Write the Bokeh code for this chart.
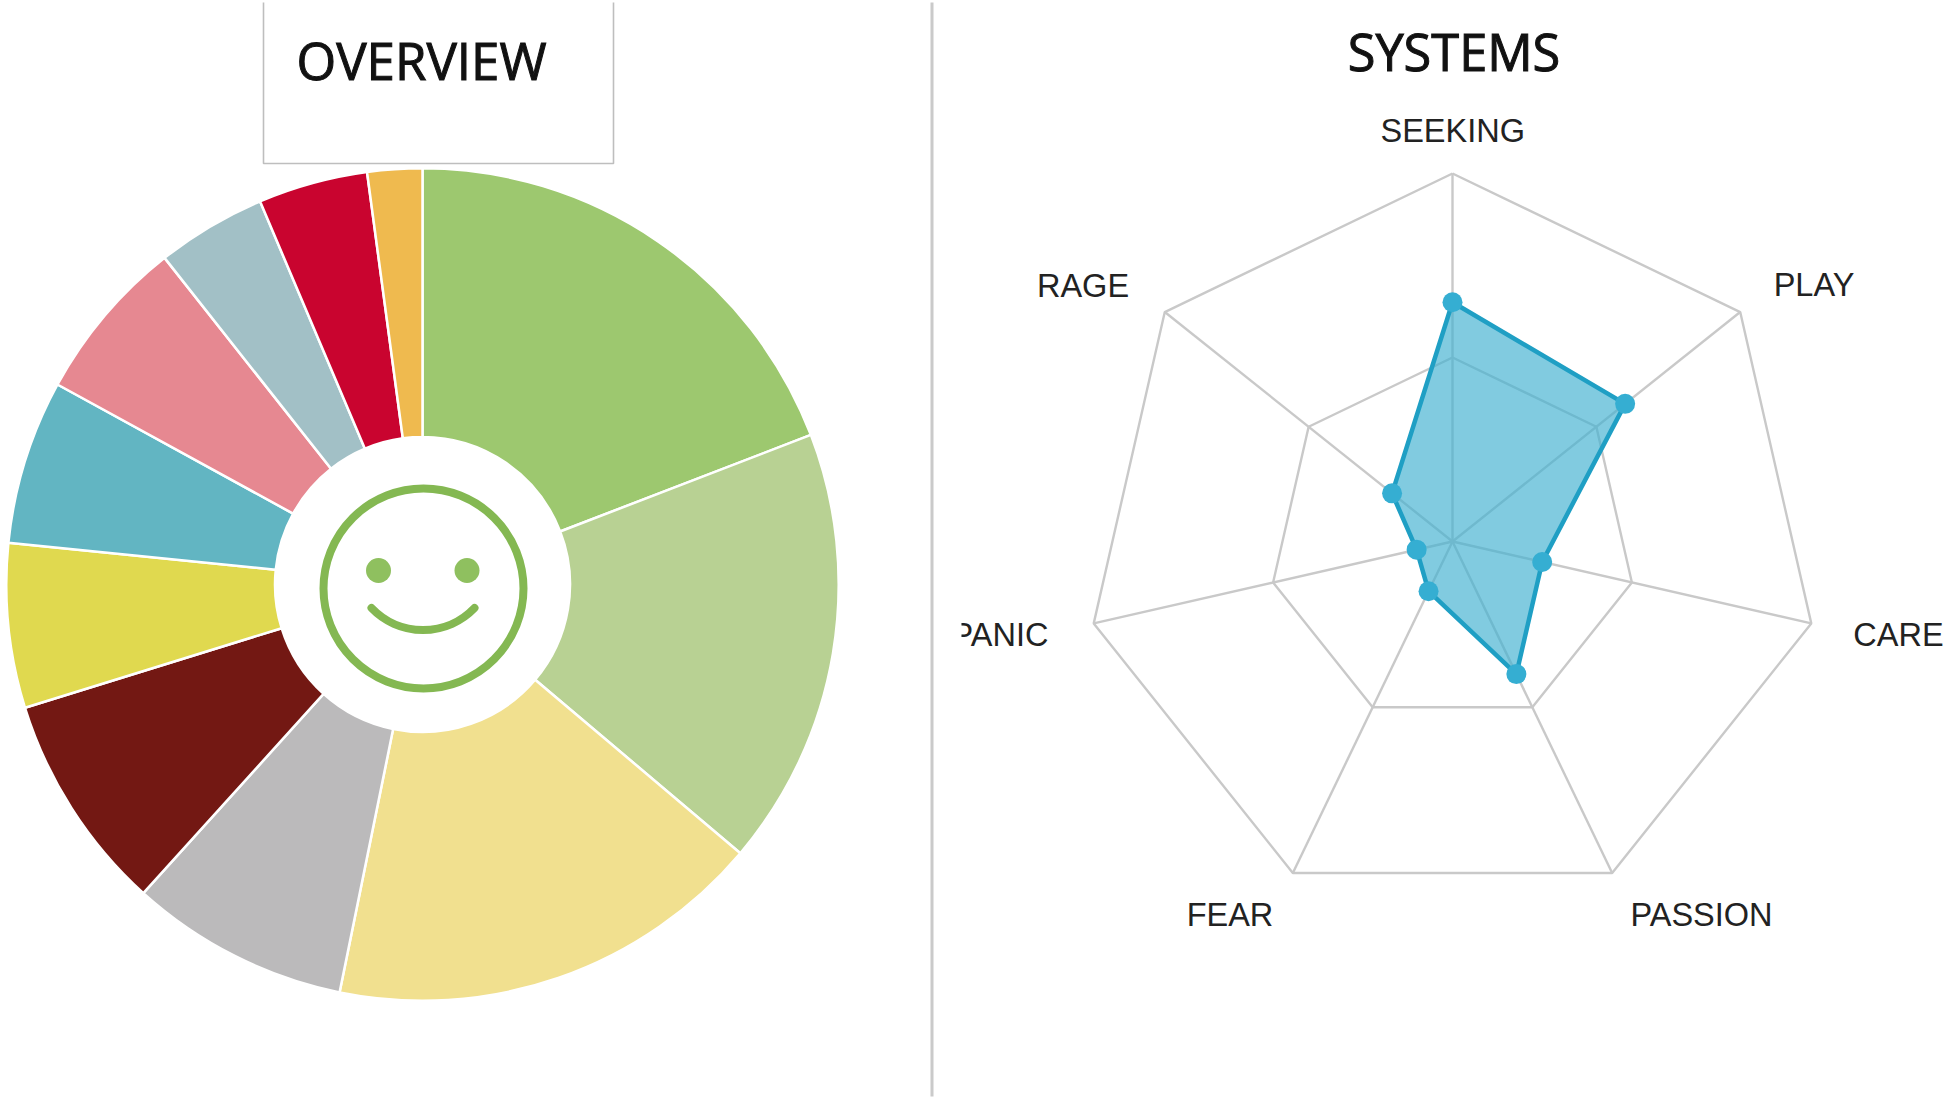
import math
from bokeh.core.properties import value
from bokeh.embed import file_html
from bokeh.layouts import row
from bokeh.models import Range1d
from bokeh.plotting import figure
from bokeh.resources import INLINE

# ---- data ----
overview_titles = "OVERVIEW"
systems_title = "SYSTEMS"
slice_values = [9, 8, 8, 4, 4, 3, 3, 3, 2, 2, 1]
slice_colors = ["#9DC86F", "#B8D193", "#F1E08F", "#BBBABB", "#731813", "#E0D94F",
                "#62B5C2", "#E68891", "#A2C0C6", "#C9042F", "#EFBA4F"]
axis_labels = ["SEEKING", "PLAY", "CARE", "PASSION", "FEAR", "PANIC", "RAGE"]
system_values = [65, 60, 25, 40, 15, 10, 21]
ring_levels = [50, 100]
scale_max = 100

# ---- layout (page pixels) ----
PAGE_L, PAGE_T, SPLIT, PAGE_R, PAGE_B = 0, 0, 961, 1950, 1099
PIE_CX, PIE_CY, PIE_R, PIE_IN = 422, 584, 416.2, 147.5
RAD_CX, RAD_CY, RAD_R = 1452, 541, 368
LABEL_CENTER_X = [1452.2, 1813.5, 1898, 1701, 1229.5, 999.5, 1082.5]
LABEL_BASE_Y = [144, 298.5, 648, 928, 928, 648, 299]
BASE_SHIFT = 0.43   # em offset between requested and drawn baseline


def base(width, x0, y0):
    p = figure(width=width, height=PAGE_B - PAGE_T, output_backend="svg", toolbar_location=None,
               x_axis_type=None, y_axis_type=None, min_border=0,
               x_range=Range1d(x0, x0 + width), y_range=Range1d(y0 - (PAGE_B - PAGE_T), y0),
               outline_line_color=None, background_fill_color="white", border_fill_color="white")
    p.grid.visible = False
    return p


# ---- left panel: pie ----
left = base(SPLIT - PAGE_L, PAGE_L - PIE_CX, PIE_CY - PAGE_T)
fx = lambda x: x - PIE_CX
fy = lambda y: PIE_CY - y

total = sum(slice_values)
cum = 0
starts, ends = [], []
for v in slice_values:
    starts.append(math.pi / 2 - 2 * math.pi * cum / total)
    cum += v
    ends.append(math.pi / 2 - 2 * math.pi * cum / total)
left.annular_wedge(x=0, y=0, inner_radius=PIE_IN, outer_radius=PIE_R,
                   start_angle=starts, end_angle=ends, direction="clock",
                   fill_color=slice_colors, line_color="white", line_width=2.5)

# smiley
SMILE = "#84B852"
left.circle(x=fx(423), y=fy(588), radius=100, fill_color=None, line_color=SMILE, line_width=8)
left.circle(x=[fx(378), fx(466.5)], y=[fy(570), fy(570)], radius=12.5,
            fill_color="#8FC05F", line_color=None)
SMILE_R = 71.3
SMILE_A = math.asin(51.5 / SMILE_R)
left.arc(x=fx(422.5), y=fy(629.5 - SMILE_R), radius=SMILE_R,
         start_angle=-math.pi / 2 - SMILE_A, end_angle=-math.pi / 2 + SMILE_A,
         line_color=SMILE, line_width=8, line_cap="round")

# title box and separator
left.line(x=[fx(263), fx(263), fx(613), fx(613)], y=[fy(2), fy(163), fy(163), fy(2)],
          line_color="#BEBEBE", line_width=1.6)
left.line(x=[fx(931.5), fx(931.5)], y=[fy(2), fy(1096)], line_color="#CACACA", line_width=3)
left.text(x=[fx(296)], y=[fy(81 - BASE_SHIFT * 51)], text=[overview_titles], text_font=value("Open Sans"),
          text_font_size="51px", text_color="#111111", text_align="left",
          text_baseline="alphabetic", text_outline_color="#111111")

# ---- right panel: radar ----
right = base(PAGE_R - SPLIT, SPLIT - RAD_CX, RAD_CY - PAGE_T)
n = len(axis_labels)
angles = [math.pi / 2 - 2 * math.pi * i / n for i in range(n)]
unit = RAD_R / scale_max


def polar(r, a):
    return r * unit * math.cos(a), r * unit * math.sin(a)


GRID = "#C9C9C9"
for lv in ring_levels:
    pts = [polar(lv, a) for a in angles]
    pts.append(pts[0])
    right.line(x=[q[0] for q in pts], y=[q[1] for q in pts], line_color=GRID, line_width=2.4)
for a in angles:
    ex, ey = polar(scale_max, a)
    right.line(x=[0, ex], y=[0, ey], line_color=GRID, line_width=2.4)

sys_pts = [polar(v, a) for v, a in zip(system_values, angles)]
sx = [q[0] for q in sys_pts]
sy = [q[1] for q in sys_pts]
right.patch(x=sx, y=sy, fill_color="#3FB0D0", fill_alpha=0.66, line_color="#1F9FC4", line_width=4.5,
            line_join="round")
right.circle(x=sx, y=sy, radius=10, fill_color="#35AED2", line_color=None)

right.text(x=[x - RAD_CX for x in LABEL_CENTER_X],
           y=[RAD_CY - (y - BASE_SHIFT * 32) for y in LABEL_BASE_Y],
           text=axis_labels, text_font=value("Liberation Sans"), text_font_size="32.5px",
           text_color="#222222", text_align="center", text_baseline="alphabetic")
right.text(x=[1453.5 - RAD_CX], y=[RAD_CY - (72 - BASE_SHIFT * 50)], text=[systems_title],
           text_font=value("Open Sans"),
           text_font_size="50.5px", text_color="#111111", text_align="center",
           text_baseline="alphabetic", text_outline_color="#111111")

page = row(left, right, spacing=0)
open("out.html", "w").write(file_html(page, INLINE))
